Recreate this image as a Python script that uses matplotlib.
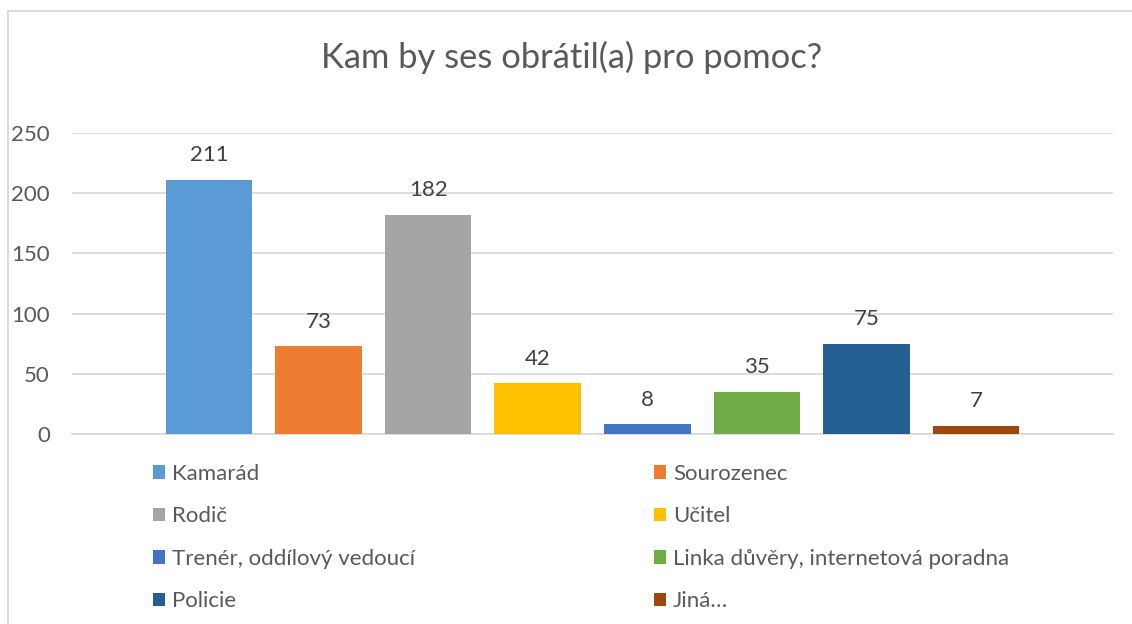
import matplotlib
matplotlib.use("Agg")
import matplotlib.pyplot as plt
from matplotlib.lines import Line2D
from matplotlib.patches import Patch

categories = ["Kamarád", "Sourozenec", "Rodič", "Učitel",
              "Trenér, oddílový vedoucí", "Linka důvěry, internetová poradna",
              "Policie", "Jiná…"]
values = [211, 73, 182, 42, 8, 35, 75, 7]
colors = ["#5B9BD5", "#ED7D31", "#A5A5A5", "#FFC000", "#4472C4", "#70AD47", "#255E91", "#9E480E"]
yticks = [0, 50, 100, 150, 200, 250]
title = "Kam by ses obrátil(a) pro pomoc?"

plt.rcParams['font.family'] = ['Lato', 'DejaVu Sans']
txt = "#595959"

fig = plt.figure(figsize=(11.32, 6.24), dpi=100)
W, H = 1132, 624
ax = fig.add_axes([72 / W, 1 - 434 / H, (1113 - 72) / W, (434 - 133) / H])

x = list(range(len(values)))
ax.bar(x, values, width=0.79, color=colors, zorder=3)
for xi, v in zip(x, values):
    ax.annotate(str(v), (xi, v), xytext=(0, 10.5), textcoords="offset points",
                ha="center", va="bottom", fontsize=16, color="#404040")

ax.set_xlim(-1.25, 7 + 1.25)
ax.set_ylim(0, 250)
ax.set_yticks(yticks)
ax.set_yticklabels([str(t) for t in yticks], fontsize=16, color=txt)
ax.tick_params(axis="y", length=0, pad=16)
ax.set_xticks([])
ax.grid(axis="y", color="#D9D9D9", linewidth=1.3, zorder=0)
for s in ["top", "right", "left"]:
    ax.spines[s].set_visible(False)
ax.spines["bottom"].set_color("#D9D9D9")
ax.spines["bottom"].set_linewidth(1.3)

fig.text(0.5 * (323 + 820) / W, 1 - 57 / H, title, ha="center", va="center",
         fontsize=24.8, color=txt)

# legend: two columns, row-major order
handles = [Patch(facecolor=c, edgecolor="none") for c in colors]
left_idx = [0, 2, 4, 6]
right_idx = [1, 3, 5, 7]
common = dict(loc="upper left", frameon=False, fontsize=16, handlelength=0.55,
              handleheight=0.55, handletextpad=0.3, labelspacing=1.01,
              labelcolor=txt, borderpad=0, borderaxespad=0)
leg1 = fig.legend([handles[i] for i in left_idx], [categories[i] for i in left_idx],
                  bbox_to_anchor=(153 / W, 1 - 464 / H), **common)
leg2 = fig.legend([handles[i] for i in right_idx], [categories[i] for i in right_idx],
                  bbox_to_anchor=(654 / W, 1 - 464 / H), **common)

# frame border
fig.add_artist(Line2D([8 / W, 8 / W], [0, 1 - 11 / H], color="#D9D9D9", lw=1.3))
fig.add_artist(Line2D([8 / W, 1], [1 - 11 / H, 1 - 11 / H], color="#D9D9D9", lw=1.3))

fig.savefig("out.png", dpi=100, facecolor="white")
